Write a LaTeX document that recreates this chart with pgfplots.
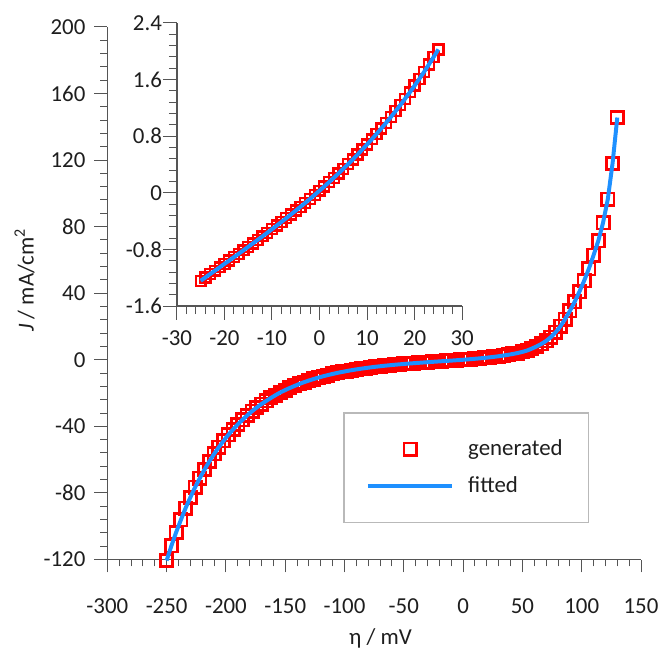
\documentclass[border=0pt]{standalone}
\usepackage{fontspec}
\setmainfont{Carlito}
\usepackage{pgfplots}
\pgfplotsset{compat=1.18}
\usepackage{pgfplotstable}

\definecolor{genred}{RGB}{255,0,0}
\definecolor{fitblue}{RGB}{30,144,255}
\definecolor{axgray}{RGB}{85,85,85}
\definecolor{txt}{RGB}{30,30,30}
\newcommand\ff{\fontsize{11.5pt}{14pt}\selectfont}

% eta in mV, J in mA/cm^2
\pgfplotstableread{
eta J
-250 -120.6
-246 -111.8
-242 -103.7
-238 -96.2
-234 -89.1
-230 -82.7
-226 -76.6
-222 -71.1
-218 -65.9
-214 -61.1
-210 -56.6
-206 -52.5
-202 -48.7
-198 -45.1
-194 -41.9
-190 -38.8
-186 -36.0
-182 -33.4
-178 -30.9
-174 -28.7
-170 -26.6
-166 -24.7
-162 -22.9
-158 -21.2
-154 -19.6
-150 -18.2
-146 -16.9
-142 -15.7
-138 -14.5
-134 -13.45
-130 -12.47
-126 -11.56
-122 -10.71
-118 -9.92
-114 -9.20
-110 -8.52
-106 -7.89
-102 -7.32
-98 -6.77
-94 -6.26
-90 -5.80
-86 -5.37
-82 -4.96
-78 -4.58
-74 -4.22
-70 -3.90
-66 -3.59
-62 -3.30
-58 -3.03
-54 -2.77
-50 -2.53
-46 -2.30
-42 -2.08
-38 -1.87
-34 -1.67
-30 -1.47
-26 -1.27
-22 -1.08
-18 -0.89
-14 -0.70
-10 -0.51
-6 -0.31
-2 -0.11
2 0.11
6 0.34
10 0.58
14 0.84
18 1.12
22 1.42
26 1.75
30 2.12
34 2.53
38 2.98
42 3.48
46 4.05
50 4.72
54 5.55
58 6.72
62 8.02
66 9.53
70 11.30
74 13.6
78 16.5
82 20.1
86 24.4
90 29.3
94 34.7
98 40.8
102 47.4
106 54.6
110 62.8
114 71.5
118 82.3
122 96.5
126 117.9
130 145.5
}\maindata

\pgfplotstableread{
eta J
-25 -1.242
-24 -1.195
-23 -1.147
-22 -1.100
-21 -1.052
-20 -1.004
-19 -0.957
-18 -0.909
-17 -0.861
-16 -0.812
-15 -0.763
-14 -0.714
-13 -0.665
-12 -0.615
-11 -0.565
-10 -0.514
-9 -0.463
-8 -0.411
-7 -0.359
-6 -0.306
-5 -0.252
-4 -0.197
-3 -0.142
-2 -0.086
-1 -0.028
0 0.030
1 0.089
2 0.150
3 0.211
4 0.274
5 0.339
6 0.404
7 0.471
8 0.540
9 0.610
10 0.682
11 0.755
12 0.831
13 0.908
14 0.988
15 1.069
16 1.153
17 1.239
18 1.328
19 1.419
20 1.513
21 1.609
22 1.708
23 1.811
24 1.916
25 2.025
}\insetdata

\pgfplotsset{
  jvbase/.style={
    scale only axis,
    axis lines=left,
    axis line style={-, draw=axgray, line width=0.8pt},
    tick align=outside,
    tick style={draw=axgray, line width=0.5pt},
    major tick length=6.5pt,
    minor tick length=3.5pt,
    minor tick num=4,
    tick label style={font=\ff, text=txt},
    label style={font=\ff, text=txt},
    /pgf/number format/assume math mode=true,
    clip=false,
    clip marker paths=true,
  },
  markleg/.style={legend image code/.code={%
    \draw[mark repeat=2,mark phase=2,##1] plot coordinates {(0pt,0pt) (21.25pt,0pt) (42.5pt,0pt)};}},
  lineleg/.style={legend image code/.code={%
    \draw[##1] (0pt,0pt) -- (42.5pt,0pt);}},
}

\begin{document}
\begin{tikzpicture}
\path (0,0) rectangle (332.5pt,328pt);

\begin{axis}[jvbase,
  at={(54pt,46.5pt)}, anchor=south west,
  width=268.5pt, height=268pt,
  xmin=-300, xmax=150, ymin=-120, ymax=200,
  xtick={-300,-250,...,150},
  ytick={-120,-80,-40,0,40,80,120,160,200},
  xticklabel style={yshift=-9.5pt},
  yticklabel style={xshift=-1pt},
  xlabel={η / mV},
  ylabel={\textit{J} / mA/cm\textsuperscript{2}},
  xlabel style={at={(axis description cs:0.512,-0.149)}, anchor=center},
  ylabel style={at={(axis description cs:-0.155,0.525)}, anchor=center},
  legend cell align=left,
  legend style={at={(0.6725,0.1726)}, anchor=center, draw=gray!55, line width=0.6pt,
    font=\ff, text=txt, inner xsep=11pt, inner ysep=11.5pt, row sep=5pt,
    /tikz/every odd column/.append style={column sep=5pt}},
]
\addplot[only marks, mark=square, mark size=3.1pt,
  mark options={draw=genred, line width=1.35pt}, markleg]
  table[x=eta, y=J] {\maindata};
\addlegendentry{generated}
\addplot[fitblue, line width=2pt, no marks, lineleg]
  table[x=eta, y=J] {\maindata};
\addlegendentry{fitted}
\end{axis}

\begin{axis}[jvbase,
  at={(89pt,174pt)}, anchor=south west,
  width=143.5pt, height=142.5pt,
  xmin=-30, xmax=30, ymin=-1.6, ymax=2.4,
  xtick={-30,-20,...,30},
  ytick={-1.6,-0.8,0,0.8,1.6,2.4},
  major tick length=7pt,
  minor tick length=4pt,
  xticklabel style={yshift=-2pt},
  yticklabel style={xshift=3pt},
]
\addplot[only marks, mark=square, mark size=2.5pt,
  mark options={draw=genred, line width=1.2pt}]
  table[x=eta, y=J] {\insetdata};
\addplot[fitblue, line width=2pt, no marks]
  table[x=eta, y=J] {\insetdata};
\end{axis}
\end{tikzpicture}
\end{document}
